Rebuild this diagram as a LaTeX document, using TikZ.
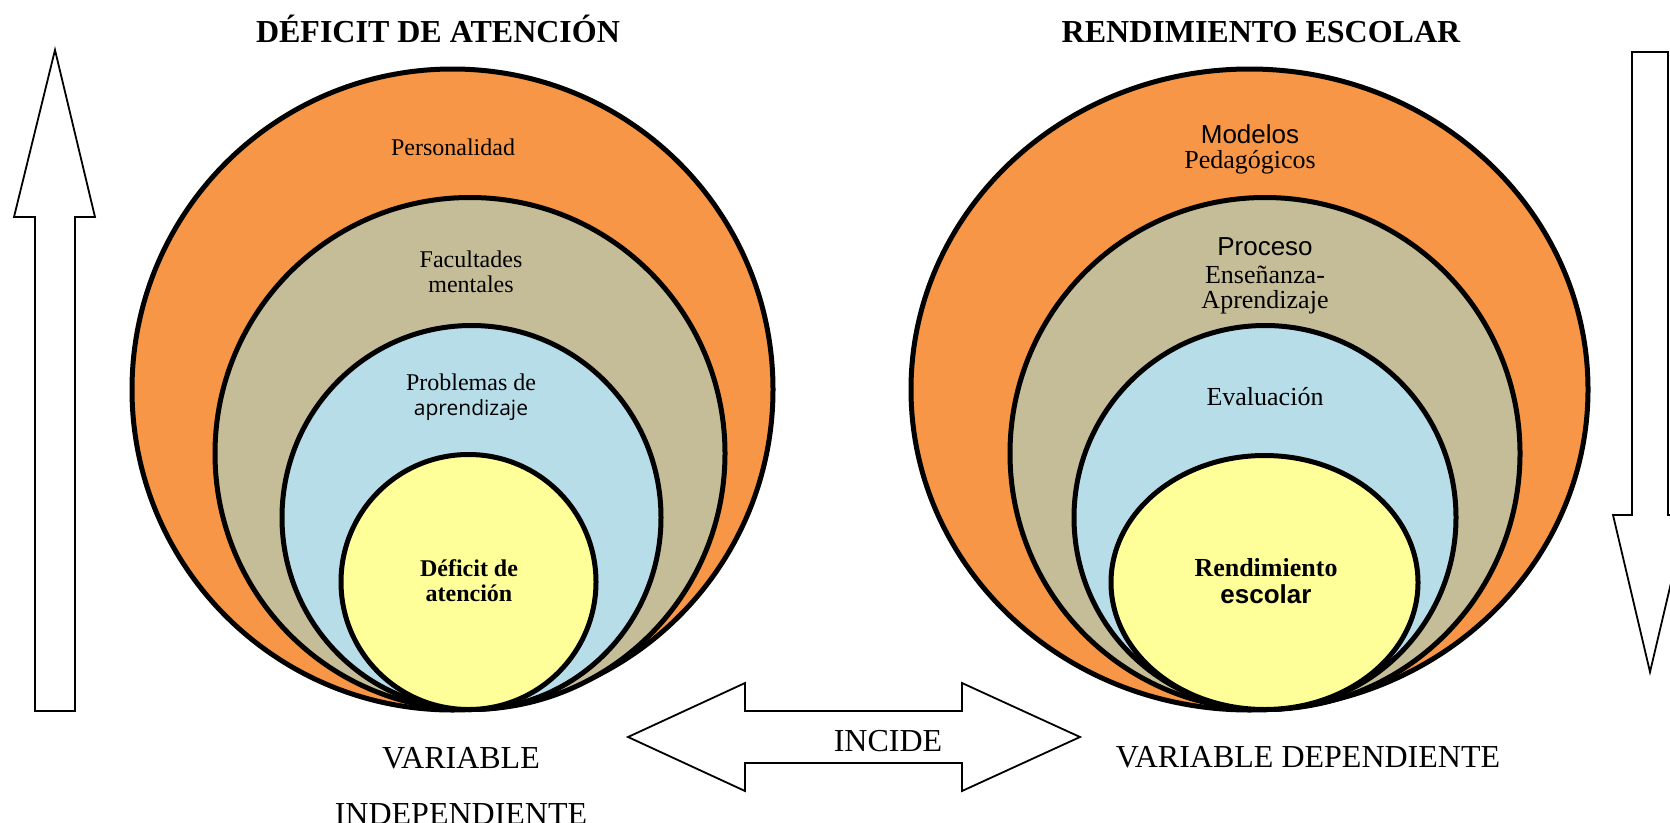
\documentclass[tikz,border=0pt]{standalone}
\usepackage{fontspec}
\setmainfont{Liberation Serif}
\newfontfamily\arialfont{Liberation Sans}
\newfontfamily\opensansfont{Open Sans}
\definecolor{layer-orange}{HTML}{F79646}
\definecolor{layer-tan}{HTML}{C4BD97}
\definecolor{layer-blue}{HTML}{B7DDE8}
\definecolor{layer-yellow}{HTML}{FFFF99}
\newcommand{\drawLayer}[5]{
	\draw[line width=5, fill=#5] (#1,#2) ellipse [x radius=#3, y radius=#4];
}
\tikzset{
	headline/.style={font=\fontsize{32}{36}\selectfont\bfseries, anchor=base, inner sep=0},
	ringsmall/.style={font=\fontsize{24}{25}\selectfont, align=center, anchor=base, inner sep=0},
	ringlarge/.style={font=\fontsize{26}{25}\selectfont, align=center, anchor=base, inner sep=0},
	vartext/.style={font=\fontsize{32}{56}\selectfont, align=center, anchor=base, inner sep=0},
	arrowline/.style={line width=1.8, fill=white, line join=miter}
}

\begin{document}
\begin{tikzpicture}[x=1pt, y=-1pt]

	\useasboundingbox (0,0) rectangle (1670,822);
	\clip (0,0) rectangle (1670,822);

	% side arrows
	\draw[arrowline] (35,711) -- (35,217) -- (14,217) -- (55,50) -- (95,217) -- (75,217) -- (75,711) -- cycle;
	\draw[arrowline] (1632,52) -- (1632,515) -- (1613,515) -- (1650,672) -- (1687,515) -- (1668,515) -- (1668,52) -- cycle;

	% left rings
	\drawLayer{452.5 }{389.5}{320.5}{320.5}{layer-orange}
	\drawLayer{470   }{453.5}{255  }{256  }{layer-tan}
	\drawLayer{471.5 }{517.5}{189.5}{192  }{layer-blue}
	\drawLayer{468.5 }{582  }{127.5}{127.5}{layer-yellow}

	% right rings
	\drawLayer{1249.5}{389.5}{338.5}{320.5}{layer-orange}
	\drawLayer{1265  }{453.5}{255  }{256  }{layer-tan}
	\drawLayer{1265  }{517.5}{191  }{192  }{layer-blue}
	\drawLayer{1264.5}{582.5}{153.5}{127  }{layer-yellow}

	% incide
	\draw[arrowline] (628,737) -- (745,683) -- (745,711) -- (962,711) -- (962,683) -- (1080,737)
		-- (962,791) -- (962,763) -- (745,763) -- (745,791) -- cycle;

	% base anchor = baseline of the last line
	\node[headline] (title-left)  at (438 ,42) {DÉFICIT DE ATENCIÓN};
	\node[headline] (title-right) at (1261,42) {RENDIMIENTO ESCOLAR};

	\node[ringsmall] (personalidad) at (453,155) {Personalidad};
	\node[ringsmall] (facultades)   at (471,292) {Facultades\\mentales};
	\node[ringsmall] (problemas)    at (471,415) {Problemas de\\{\opensansfont\fontsize{21}{25}\selectfont aprendizaje}};
	\node[ringsmall, font=\fontsize{24}{25}\selectfont\bfseries] (deficit) at (469,601) {Déficit de\\atención};

	\node[ringlarge] (modelos)     at (1250,168) {{\arialfont Modelos}\\Pedagógicos};
	\node[ringlarge] (proceso)     at (1265,308) {{\arialfont Proceso}\\[3pt]Enseñanza-\\Aprendizaje};
	\node[ringlarge] (evaluacion)  at (1265,405) {Evaluación};
	\node[ringlarge, font=\fontsize{26}{25}\selectfont\bfseries] (rendimiento) at (1266,603) {Rendimiento\\[2pt]{\arialfont escolar}};

	\node[vartext] (var-indep) at (461 ,824) {VARIABLE\\INDEPENDIENTE};
	\node[vartext] (var-dep)   at (1308,767) {VARIABLE DEPENDIENTE};
	\node[vartext] (incide)    at (888 ,751) {INCIDE};

\end{tikzpicture}
\end{document}
